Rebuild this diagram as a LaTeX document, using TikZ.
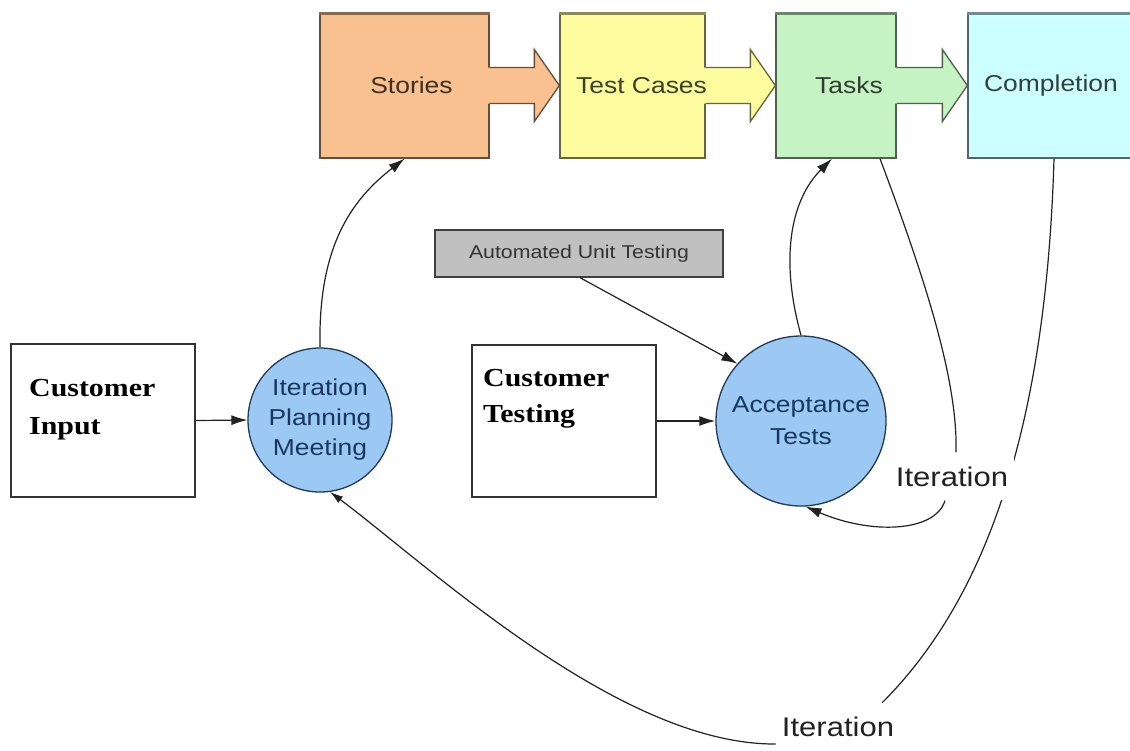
\documentclass[tikz,border=0pt]{standalone}
\usepackage{fontspec}
\setmainfont{Liberation Serif}
\newfontfamily\sansw[FakeStretch=1.15]{Liberation Sans}
\newfontfamily\serifw[FakeStretch=1.15]{Liberation Serif}
\usetikzlibrary{arrows.meta,calc}
\pgfdeclarelayer{bg}
\pgfsetlayers{bg,main}

\definecolor{storiesC}{HTML}{F9C18F}
\definecolor{testC}{HTML}{FCFC9E}
\definecolor{tasksC}{HTML}{C5F3C3}
\definecolor{complC}{HTML}{CCFFFF}
\definecolor{bubbleC}{HTML}{9CC8F4}
\definecolor{bubbleEdge}{HTML}{203A5A}
\definecolor{bubbleText}{HTML}{17375E}
\definecolor{autC}{HTML}{C0C0C0}
\definecolor{inkC}{HTML}{222222}

\tikzset{
  stage/.style={rectangle, draw=#1!40!black, fill=#1, line width=1.3pt,
    minimum height=145pt, inner sep=0pt},
  stagetext/.style={inner sep=0pt, text=#1!25!black,
    font=\sansw\fontsize{23}{28}\selectfont},
  bubble/.style={circle, draw=bubbleEdge, fill=bubbleC, line width=1.3pt,
    inner sep=0pt, align=center, text=bubbleText},
  plainbox/.style={rectangle, draw=black!80, fill=white, line width=1.4pt,
    minimum width=184pt, inner sep=0pt},
  boxtext/.style={anchor=north west, align=left, inner sep=0pt, text=black,
    font=\serifw\bfseries\fontsize{26}{#1}\selectfont},
  iterlabel/.style={fill=white, inner xsep=6pt, inner ysep=14pt, text=inkC,
    font=\sansw\fontsize{27}{30}\selectfont},
  wire/.style={draw=inkC, line width=1.2pt},
  conn/.style={wire, -{Latex[length=16pt,width=10pt]}},
}

% block arrow joining two stages, drawn in the colour of the first one
\newcommand\flowarrow[3]{%
  \fill[#3] ($(#1.east)+(-3,-18)$) -- ($(#2.west)+(-25,-18)$)
    -- ($(#2.west)+(-25,-36)$) -- (#2.west) -- ($(#2.west)+(-25,36)$)
    -- ($(#2.west)+(-25,18)$) -- ($(#1.east)+(-3,18)$) -- cycle;
  \draw[#3!40!black, line width=1.3pt, line join=miter]
    ($(#1.east)+(0,-18)$) -- ($(#2.west)+(-25,-18)$)
    -- ($(#2.west)+(-25,-36)$) -- (#2.west) -- ($(#2.west)+(-25,36)$)
    -- ($(#2.west)+(-25,18)$) -- ($(#1.east)+(0,18)$);
}
% darker band along the top edge of a stage
\newcommand\topband[2]{%
  \draw[#2!55!black, line width=3pt] ($(#1.north west)+(0,1)$) -- ($(#1.north east)+(0,1)$);
}

\begin{document}
\begin{tikzpicture}[x=1pt, y=-1pt]
\useasboundingbox (0,0) rectangle (1130,750);
\begin{pgfonlayer}{bg}
  \fill[white] (0,0) rectangle (1130,750);
\end{pgfonlayer}
\clip (0,0) rectangle (1130,750);

% process stages along the top
\node[stage=storiesC, minimum width=169pt] (stories) at (404.5,85.5) {};
\node[stage=testC, minimum width=145pt] (testcases) at (632.5,85.5) {};
\node[stage=tasksC, minimum width=120pt] (tasks) at (836,85.5) {};
\node[stage=complC, minimum width=172pt] (completion) at (1054,85.5) {};
\topband{stories}{storiesC}
\topband{testcases}{testC}
\topband{tasks}{tasksC}
\topband{completion}{complC}
\flowarrow{stories}{testcases}{storiesC}
\flowarrow{testcases}{tasks}{testC}
\flowarrow{tasks}{completion}{tasksC}
\node[stagetext=storiesC] (storiesT) at ($(stories)+(7,0)$) {Stories};
\node[stagetext=testC] (testcasesT) at ($(testcases)+(9,0)$) {Test Cases};
\node[stagetext=tasksC] (tasksT) at ($(tasks)+(13,0)$) {Tasks};
\node[stagetext=complC] (completionT) at ($(completion)+(-3,0)$) {Completion};

% inputs
\node[plainbox, minimum height=153pt] (cin) at (103,420.5) {};
\node[boxtext=38] (cintext) at (29,379) {Customer\\Input};
\node[plainbox, minimum height=152pt] (ct) at (564,421) {};
\node[boxtext=36] (cttext) at (483,369) {Customer\\Testing};
\node[rectangle, draw=black!75, fill=autC, line width=1.3pt,
  minimum width=288pt, minimum height=47pt, inner sep=0pt, text=black!80,
  font=\sansw\fontsize{18.5}{22}\selectfont] (aut) at (579,253.5)
  {Automated Unit Testing};

% activities
\node[bubble, minimum size=144pt, font=\sansw\fontsize{23}{30}\selectfont]
  (plan) at (320,420) {Iteration\\Planning\\Meeting};
\node[bubble, minimum size=170pt, font=\sansw\fontsize{23}{32}\selectfont]
  (acc) at (801,421) {Acceptance\\Tests};

% loop labels
\node[iterlabel] (it1) at (952,476.5) {Iteration};
\node[iterlabel] (it2) at (838,727) {Iteration};

% connectors
\draw[conn] (cin.east) -- (plan.west);
\draw[conn] (ct.east) -- (acc.west);
\draw[conn] ($(aut.south)+(1,0)$) -- (acc.138);
\draw[conn] (plan.north) .. controls +(-2,-100) and +(-54,42) .. (stories.south);
\draw[conn] (acc.north) .. controls +(-21,-76) and +(-42,42) .. ($(tasks.south)+(-4,0)$);

% inner iteration loop
\draw[wire] ($(tasks.south)+(44,0)$) .. controls +(45,120) and +(2,-72) .. ($(it1.north)+(4,0)$);
\draw[conn] ($(it1.south)+(-7,0)$) .. controls +(-10,32) and +(65,28) .. (acc.-87);

% outer iteration loop
\begin{pgfonlayer}{bg}
  \draw[wire] (completion.south) .. controls +(-8,272) and +(103,-103) .. ($(it2.north)+(44,0)$);
\end{pgfonlayer}
\draw[wire, -{Latex[length=13pt,width=8pt]}] ($(it2.west)+(0,17)$) .. controls +(-156,1) and +(100,75) .. (plan.-82);
\end{tikzpicture}
\end{document}
